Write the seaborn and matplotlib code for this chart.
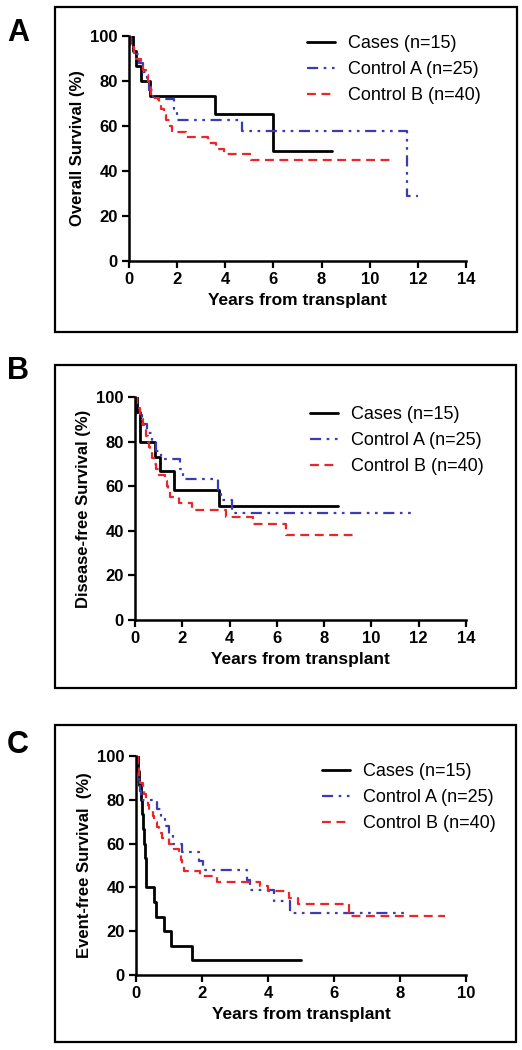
import matplotlib
matplotlib.use("Agg")
import matplotlib.pyplot as plt
import seaborn as sns
from matplotlib.patches import Rectangle

# --- Daten ---
# A: Overall survival
a_cases_t = [0, 0.15, 0.3, 0.5, 0.88, 3.57, 5.97, 8.45]
a_cases_s = [100, 93.3, 86.7, 80.0, 73.3, 65.2, 48.9, 48.9]
a_ctla_t = [0, 0.1, 0.2, 0.4, 0.6, 0.75, 0.85, 1.0, 1.85, 2.0, 4.68, 11.55, 12.0]
a_ctla_s = [100, 96, 92, 88, 84, 80, 76, 72, 67.5, 62.5, 57.9, 28.9, 28.9]
a_ctlb_t = [0, 0.05, 0.1, 0.2, 0.3, 0.5, 0.6, 0.7, 0.8, 0.85, 0.9, 1.25, 1.35, 1.45,
            1.55, 1.7, 1.8, 2.35, 3.3, 3.6, 3.95, 5.05, 10.95]
a_ctlb_s = [100, 97.5, 95, 92.5, 90, 87.5, 85, 82.5, 80, 77.5, 72.5, 70, 67.5, 65,
            62.5, 60, 57.5, 55, 52.5, 50, 47.5, 45, 45]

# B: Disease-free survival
b_cases_t = [0, 0.1, 0.2, 0.86, 1.07, 1.67, 3.57, 8.6]
b_cases_s = [100, 93.3, 80, 73.3, 66.7, 58.3, 51.0, 51.0]
b_ctla_t = [0, 0.05, 0.3, 0.5, 0.7, 0.9, 1.1, 1.9, 2.05, 3.5, 3.65, 4.1, 11.9]
b_ctla_s = [100, 92, 88, 84, 80, 76, 72, 67.6, 63.1, 58, 53.6, 48.2, 48.2]
b_ctlb_t = [0, 0.1, 0.15, 0.2, 0.3, 0.35, 0.4, 0.45, 0.55, 0.6, 0.65, 0.7, 0.8, 0.9,
            1.0, 1.25, 1.35, 1.4, 1.5, 1.85, 2.4, 3.85, 5.0, 6.4, 9.45]
b_ctlb_s = [100, 97.5, 95, 92.5, 90, 87.5, 85, 82.5, 80, 77.5, 75, 72.5, 70, 67.5,
            65, 62.5, 60, 57.5, 55, 52.5, 49.5, 46.2, 42.9, 38.1, 38.1]

# C: Event-free survival
c_cases_t = [0, 0.05, 0.1, 0.15, 0.18, 0.22, 0.25, 0.27, 0.29, 0.31, 0.55, 0.6,
             0.85, 1.05, 1.7, 5.0]
c_cases_s = [100, 93.3, 86.7, 80, 73.3, 66.7, 60, 53.3, 46.7, 40, 33.3, 26.7,
             20, 13.3, 6.7, 6.7]
c_ctla_t = [0, 0.05, 0.08, 0.1, 0.12, 0.15, 0.63, 0.75, 0.88, 1.0, 1.13, 1.4, 1.9,
            2.04, 3.36, 3.45, 4.17, 4.67, 8.2]
c_ctla_s = [100, 96, 92, 88, 84, 80, 76, 72, 68, 64, 60, 56, 52, 48, 43.6, 38.8,
            33.9, 28.2, 28.2]
c_ctlb_t = [0, 0.05, 0.07, 0.09, 0.1, 0.12, 0.2, 0.25, 0.3, 0.35, 0.4, 0.5, 0.55,
            0.65, 0.7, 0.8, 1.0, 1.15, 1.3, 1.35, 1.4, 1.45, 1.95, 2.45, 3.75, 4.0,
            4.65, 4.9, 6.45, 9.37]
c_ctlb_s = [100, 97.5, 95, 92.5, 90, 87.5, 85, 82.5, 80, 77.5, 75, 72.5, 70, 67.5,
            65, 62.5, 60, 57.5, 55, 52.5, 50, 47.5, 45, 42.5, 40.5, 38.5, 35.3,
            32.4, 27.1, 27.1]

labels = ["Cases (n=15)", "Control A (n=25)", "Control B (n=40)"]
colors = ["black", "#3b3bb5", "#e8262b"]
styles = ["-", (0, (5, 2.5, 1.2, 2.5, 1.2, 2.5)), (0, (4, 2.5))]
widths = [2.0, 1.6, 1.6]

sns.set_style("ticks")
plt.rcParams["font.family"] = ["Liberation Sans", "DejaVu Sans"]
plt.rcParams["text.color"] = "black"
plt.rcParams["axes.labelcolor"] = "black"
plt.rcParams["xtick.color"] = "black"
plt.rcParams["ytick.color"] = "black"
plt.rcParams["axes.edgecolor"] = "black"

fig = plt.figure(figsize=(5.22, 10.5), dpi=100)

# Buchstabe, y-Label, x-Max, Zeiten, Werte, Achse (px), Rahmen (px), Buchstabe-y, Legende-Anker
panels = [
    ("A", "Overall Survival (%)", 14, [a_cases_t, a_ctla_t, a_ctlb_t],
     [a_cases_s, a_ctla_s, a_ctlb_s], [129, 466, 261, 36], [55, 517, 7, 332], 33,
     (0.5, 1.045)),
    ("B", "Disease-free Survival (%)", 14, [b_cases_t, b_ctla_t, b_ctlb_t],
     [b_cases_s, b_ctla_s, b_ctlb_s], [135, 466, 620, 397], [55, 516, 365, 688], 371,
     (0.5, 1.0)),
    ("C", "Event-free Survival  (%)", 10, [c_cases_t, c_ctla_t, c_ctlb_t],
     [c_cases_s, c_ctla_s, c_ctlb_s], [136, 466, 975, 756], [55, 516, 725, 1042], 745,
     (0.535, 1.01)),
]

W, H = 522.0, 1050.0
for letter, ylab, xmax, ts, ss, ax_px, box_px, let_y, leg_anchor in panels:
    l, r, b, t = ax_px
    ax = fig.add_axes([l / W, 1 - b / H, (r - l) / W, (b - t) / H])
    for tt, sv, lab, col, ls, lw in zip(ts, ss, labels, colors, styles, widths):
        sns.lineplot(x=tt, y=sv, ax=ax, drawstyle="steps-post", color=col,
                     linestyle=ls, linewidth=lw, label=lab, estimator=None,
                     sort=False)
    ax.set_xlim(0, xmax)
    ax.set_ylim(0, 100)
    ax.set_xticks(range(0, xmax + 1, 2))
    ax.set_yticks(range(0, 101, 20))
    sns.despine(ax=ax)
    for sp in ["left", "bottom"]:
        ax.spines[sp].set_linewidth(1.8)
    ax.tick_params(direction="out", length=5, width=1.6, labelsize=12, pad=3)
    for lbl in ax.get_xticklabels() + ax.get_yticklabels():
        lbl.set_fontweight("bold")
    ax.set_xlabel("Years from transplant", fontsize=12.5, fontweight="bold", labelpad=4)
    ax.set_ylabel(ylab, fontsize=12, fontweight="bold", labelpad=4)
    ax.legend(loc="upper left", bbox_to_anchor=leg_anchor, frameon=False,
              fontsize=13, handlelength=1.6, handletextpad=0.7, labelspacing=0.5,
              borderpad=0)

    # Rahmen um das Panel
    x0, x1, y0, y1 = box_px
    fig.add_artist(Rectangle((x0 / W, 1 - y1 / H), (x1 - x0) / W, (y1 - y0) / H,
                             transform=fig.transFigure, fill=False, lw=1.6,
                             ec="black"))
    fig.text(7 / W, 1 - let_y / H, letter, fontsize=22, fontweight="bold",
             va="center", ha="left")

fig.savefig("out.png", dpi=100)
